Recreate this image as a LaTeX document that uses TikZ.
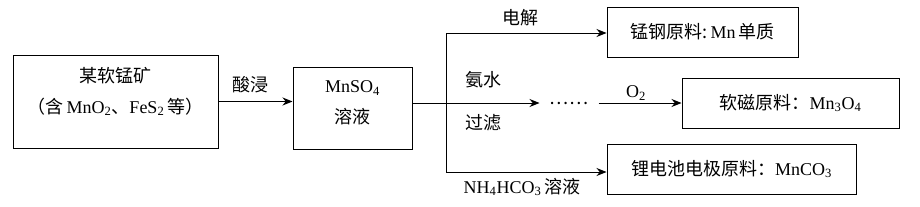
\documentclass[tikz,border=0pt]{standalone}
\usepackage{fontspec}
\setmainfont{Liberation Serif}
\newfontfamily\cjk{Noto Sans CJK SC}
\usetikzlibrary{arrows.meta}
\begin{document}
\begin{tikzpicture}[x=1pt,y=-1pt,font=\fontsize{18}{31}\selectfont,line width=1pt,
  every node/.style={inner sep=2pt,align=center},
  every label/.style={align=center},
  box/.style={draw,minimum height=50},
  arr/.style={-{Stealth[length=10pt,width=8pt]}}]
\useasboundingbox (0,0) rectangle (920,206);
% boxes
\node[box,minimum width=205,minimum height=93,
  label={[yshift=10pt]center:{\cjk 某软锰矿}\\{\cjk （含}\,MnO\textsubscript{2}{\cjk 、}FeS\textsubscript{2}\,{\cjk 等）}}] (ore) at (115.5,101.5) {};
\node[box,minimum width=119,minimum height=82,
  label={[yshift=5pt]center:MnSO\textsubscript{4}\\{\cjk 溶液}}] (msol) at (352.5,108) {};
\node[box,minimum width=191] (steel) at (702.5,32) {{\cjk 锰钢原料:}\,Mn\,{\cjk 单质}};
\node[box,minimum width=217] (magnet) at (790.5,103) {{\cjk 软磁原料：}Mn\textsubscript{3}O\textsubscript{4}};
\node[box,minimum width=249] (battery) at (731.5,169) {{\cjk 锂电池电极原料：}MnCO\textsubscript{3}};
\node[minimum width=58] (dots) at (569,103) {{\cjk ……}};
% branch points
\coordinate (split) at (446,103);
\coordinate (up) at (446,33);
\coordinate (down) at (446,172);
% connectors
\draw[arr] (ore.east) -- (ore.east -| msol.west);
\draw[arr] (split -| msol.east) -- (dots.west);
\draw (up) -- (down);
\draw[arr] (up) -- (up -| steel.west);
\draw[arr] (down) -- (down -| battery.west);
\draw[arr] (dots.east) -- (magnet.west);
% labels
\node (acid) at (250,85) {\cjk 酸浸};
\node (elec) at (520,18) {\cjk 电解};
\node (ammonia) at (483,80) {\cjk 氨水};
\node (filter) at (483,123) {\cjk 过滤};
\node (bicarb) at (522,187) {NH\textsubscript{4}HCO\textsubscript{3}\,{\cjk 溶液}};
\node (oxy) at (636,93) {O\textsubscript{2}};
\end{tikzpicture}
\end{document}
